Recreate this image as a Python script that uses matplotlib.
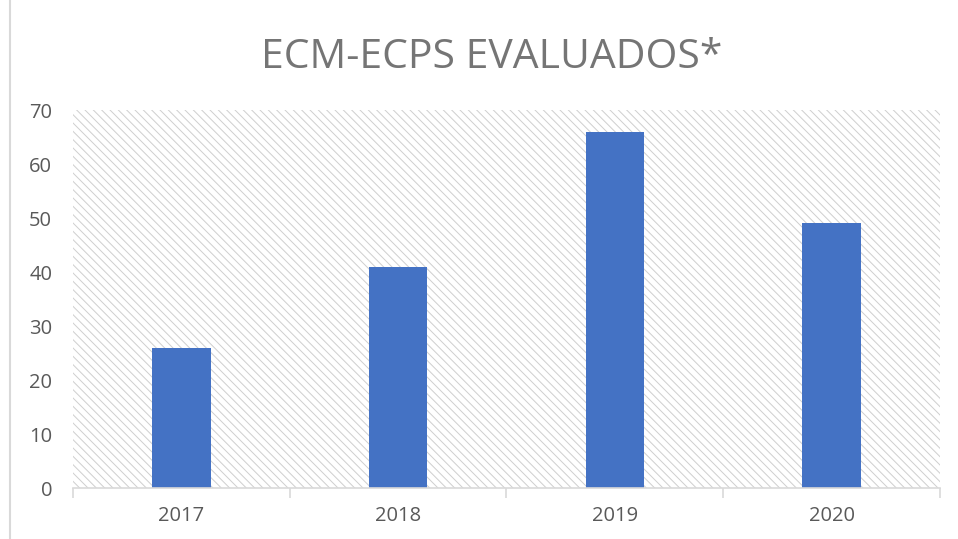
import matplotlib.pyplot as plt
from matplotlib.patches import Rectangle
from matplotlib.lines import Line2D

anios = ['2017', '2018', '2019', '2020']
evaluados = [26, 41, 66, 49]

plt.rcParams['font.family'] = ['Open Sans', 'DejaVu Sans']
plt.rcParams['hatch.linewidth'] = 0.7

fig = plt.figure(figsize=(9.58, 5.39), dpi=100)
ax = fig.add_axes([73 / 958, 1 - 488 / 539, (940 - 73) / 958, (488 - 110) / 539])

# fondo rayado del area de trazado
ax.add_patch(Rectangle((0, 0), 1, 1, transform=ax.transAxes, facecolor='white',
                       edgecolor='#cfcfcf', hatch='\\\\\\\\', linewidth=0, zorder=0))

pos = range(len(anios))
ax.bar(pos, evaluados, width=0.27, color='#4472C4', zorder=2)

ax.set_xlim(-0.5, len(anios) - 0.5)
ax.set_ylim(0, 70)
ax.set_yticks(range(0, 71, 10))
ax.set_xticks(list(pos))
ax.set_xticklabels(anios)
ax.set_xticks([i - 0.5 for i in range(len(anios) + 1)], minor=True)

for s in ['top', 'right', 'left']:
    ax.spines[s].set_visible(False)
ax.spines['bottom'].set_color('#d9d9d9')
ax.spines['bottom'].set_linewidth(1.2)

ax.tick_params(axis='x', which='major', length=0, pad=13, labelsize=14.5, labelcolor='#595959')
ax.tick_params(axis='x', which='minor', length=7, width=1.2, color='#d9d9d9')
ax.tick_params(axis='y', length=0, pad=15, labelsize=14.5, labelcolor='#595959')

fig.text(0.513, 0.893, 'ECM-ECPS EVALUADOS*', ha='center', va='center',
         fontsize=29.4, color='#757575')

# borde del grafico
fig.add_artist(Line2D([10 / 958, 10 / 958], [0, 1], transform=fig.transFigure,
                      color='#d9d9d9', linewidth=1.5))

fig.savefig('out.png', dpi=100)
